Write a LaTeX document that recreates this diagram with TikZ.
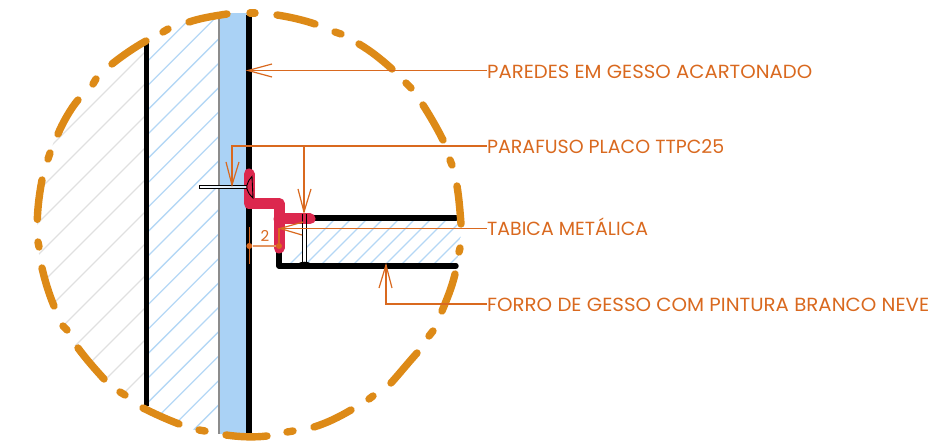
\documentclass[tikz,border=0pt]{standalone}
\usepackage{fontspec}
\usepackage{graphicx}
\setmainfont{Poppins}
\definecolor{dashor}{HTML}{DD8A17}
\definecolor{wallblue}{HTML}{AAD2F5}
\definecolor{hatchblue}{HTML}{B4D7F5}
\definecolor{hatchgray}{HTML}{E0E0E0}
\definecolor{redprof}{HTML}{DC284E}
\definecolor{leadc}{HTML}{D9691F}
\newcommand{\fitlabel}[2]{\resizebox{#1pt}{\height}{#2}}
\tikzset{
  dashstroke/.style={draw=dashor,line width=7.4pt,line cap=round,line join=round},
  hatchb/.style={draw=hatchblue,line width=1.3pt},
  hatchg/.style={draw=hatchgray,line width=1.3pt},
  blackline/.style={draw=black,line width=5.4pt},
  leader/.style={draw=leadc,line width=1.4pt},
  barb/.style={draw=leadc,line width=1.2pt},
  lbl/.style={text=leadc,anchor=base west,inner sep=0pt,font=\fontsize{19}{20}\selectfont},
  dimdot/.style={circle,fill=leadc,inner sep=0pt,minimum size=6pt},
}
\begin{document}
\begin{tikzpicture}[x=1pt,y=-1pt]
\useasboundingbox (0,0) rectangle (945,446);
% hatching
\begin{scope}
\clip (249,225) circle (212);
\begin{scope}
\clip (0,0) rectangle (146,446);
\foreach \c in {19,51,83,115,147,179,211,243,275,307,339,371,403}
  \draw[hatchg] (0,\c+146) -- (146,\c);
\end{scope}
\begin{scope}
\clip (146,0) rectangle (219,446);
\foreach \k in {-12,...,9}
  \draw[hatchb] (146,258+\k*24.4) -- (219,185+\k*24.4);
\end{scope}
\begin{scope}
\clip (283,220) rectangle (465,264);
\foreach \c in {290,306,322,338,354,370,386,402,418,434,450,466,482,498}
  \draw[hatchb] (\c,264) -- (\c+50,214);
\end{scope}
\end{scope}
% wall
\fill[wallblue] (219,13) rectangle (249,434);
\draw[draw=gray!90,line width=2.4pt] (219,19) -- (219,434);
\draw[blackline] (146.5,40) -- (146.5,406);
\draw[blackline] (249,15) -- (249,434);
% ceiling
\draw[blackline,line cap=round] (305,218) -- (456,218);
\draw[blackline,line cap=round,line join=round] (279,250) -- (279,266) -- (456,266);
% screw in the ceiling
\fill[white] (302.5,222) rectangle (306,262);
\draw[black,line width=.8pt] (302,214) -- (302,262) (306.5,214) -- (306.5,262);
\fill[black] (297,264) .. controls (301,261) and (308,261) .. (312,264) -- cycle;
% metal profile
\draw[draw=redprof,line width=11pt,line cap=round,line join=round]
  (249,174) -- (249,203.5) -- (279,203.5) -- (279,248);
\draw[draw=redprof,line width=11pt,line cap=round] (279,219) -- (310,219);
\draw[black,line width=.8pt] (302,214) -- (302,224) (306.5,214) -- (306.5,224);
% screw in the wall
\shade[left color=white,right color=wallblue!60] (199,185.5) rectangle (246,188.5);
\draw[black,line width=.9pt] (199,185.2) rectangle (247,188.8);
\draw[black,line width=.9pt,fill=redprof] (247,185) .. controls (248.5,181) and (250,178) .. (252,176.5) -- (253,198) .. controls (250,196) and (248.5,193) .. (247,189) -- cycle;
% dashed circle
\foreach \p in {
  {(37.3,219.3) .. controls (37.8,206) and (39.5,193) .. (42,180)},
  {(48,159) -- (50,153)},
  {(58,134) .. controls (62,124) and (71,108) .. (78,100)},
  {(93,84) -- (96,79)},
  {(112,64) .. controls (122,56) and (135,47) .. (146,41)},
  {(163,32) -- (168,29)},
  {(189,22) .. controls (201,18) and (214,16) .. (227,14)},
  {(250,13) -- (255,13)},
  {(277,15) .. controls (290,17) and (303,20) .. (315,24)},
  {(335,32) -- (341,34)},
  {(359,44) .. controls (371,51) and (382,60) .. (392,69)},
  {(406,83) -- (411,88)},
  {(423,105) .. controls (430,116) and (437,128) .. (443,140)},
  {(450,160) -- (452,165)},
  {(457,186) .. controls (459,198) and (460,211) .. (461,224)},
  {(460,248) -- (459,252)},
  {(455,274) .. controls (452,287) and (447,299) .. (442,311)},
  {(433,331) -- (429,336)},
  {(417,353) .. controls (408,363) and (400,373) .. (391,383)},
  {(373,396) -- (369,399)},
  {(351,410) .. controls (339,417) and (327,423) .. (314,427)},
  {(293,431) -- (287,432)},
  {(267,436) .. controls (254,437.5) and (240,437) .. (226,435)},
  {(205,431) -- (199,430)},
  {(179,424) .. controls (166,419) and (155,414) .. (143,408)},
  {(125,395) -- (120,392)},
  {(104,379) .. controls (95,369) and (86,359) .. (78,348)},
  {(67,330) -- (63,326)},
  {(54,306) .. controls (49,294) and (45,281) .. (42,268)},
  {(39,247) -- (38,242)}
}{\draw[dashstroke] \p;}
% labels
\node[lbl] (l1) at (487,78.3) {\fitlabel{325}{PAREDES EM GESSO ACARTONADO}};
\node[lbl] (l2) at (487,154) {\fitlabel{237}{PARAFUSO PLACO TTPC25}};
\node[lbl] (l3) at (487,236) {\fitlabel{161}{TABICA METÁLICA}};
\node[lbl] (l4) at (487,311.7) {\fitlabel{442}{FORRO DE GESSO COM PINTURA BRANCO NEVE}};
% leaders
\coordinate (t1) at (248,70.5);
\coordinate (t2) at (232,185);
\coordinate (t2k) at (232,146);
\coordinate (t2b) at (304,212);
\coordinate (t2j) at (304,146);
\coordinate (t3) at (280,228.5);
\coordinate (t4) at (386,265);
\coordinate (t4k) at (386,304);
\draw[leader] (t1) -- (t1 -| l1.west);
\draw[barb] (272,64) -- (t1) -- (272,77);
\draw[leader] (t2) -- (t2k) -- (t2k -| l2.west);
\draw[barb] (226,162) -- (t2) -- (239,162);
\draw[leader] (t2j) -- (t2b);
\draw[barb] (298,189) -- (t2b) -- (311,189);
\draw[leader] (t3) -- (t3 -| l3.west);
\draw[barb] (303,222) -- (t3) -- (302,235);
\draw[leader] (t4) -- (t4k) -- (t4k -| l4.west);
\draw[barb] (379,288) -- (t4) -- (392,288);
% dimension
\node[dimdot] (d1) at (249.3,246) {};
\node[dimdot] (d2) at (279,246) {};
\draw[leader,draw=leadc!70] (d1) -- (d2);
\coordinate (d1a) at (249.3,227);
\coordinate (d1b) at (249.3,264);
\coordinate (d2a) at (279,228);
\draw[barb] (d1a) -- (d1b);
\draw[barb] (d2a) -- (d2);
\node[text=leadc,inner sep=0pt,font=\fontsize{15}{16}\selectfont] (dim) at (265,236) {2};
\end{tikzpicture}
\end{document}
